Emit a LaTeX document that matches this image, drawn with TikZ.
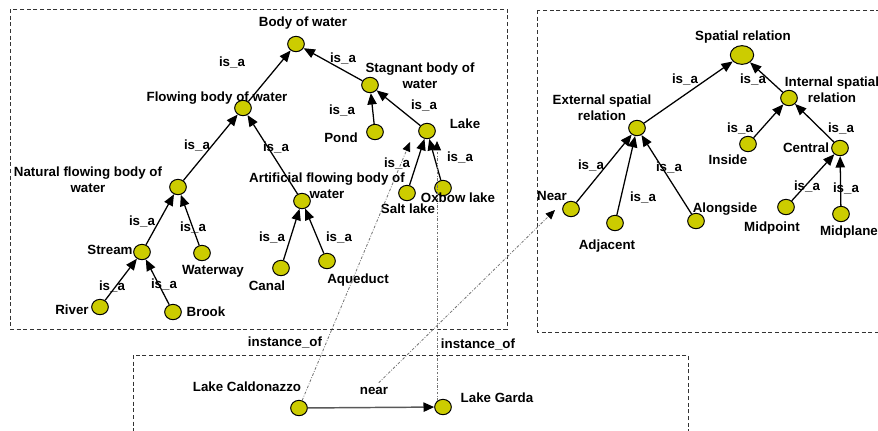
\documentclass[tikz,border=0pt]{standalone}
\usepackage{fontspec}
\setmainfont{Liberation Sans}
\usetikzlibrary{shapes.geometric,arrows.meta}
\definecolor{conceptfill}{RGB}{204,204,0}
\begin{document}
\begin{tikzpicture}[x=0.75pt,y=-0.75pt,
  concept/.style={ellipse, draw=black, line width=0.75pt, fill=conceptfill,
    inner sep=0pt, minimum width=12.5pt, minimum height=11.5pt},
  bigconcept/.style={concept, minimum width=17.5pt, minimum height=14pt},
  lbl/.style={font=\bfseries, inner sep=0pt, anchor=base, yshift=-3.6pt},
  lbltwo/.style={font=\bfseries\fontsize{10}{12}\selectfont, align=center, inner sep=0pt},
  isa/.style={draw=black, line width=0.95pt, -{Triangle[length=8.5pt,width=7pt]}},
  inst/.style={draw=black!55, line width=0.6pt,
    dash pattern=on 2pt off 1.2pt on 0.6pt off 1.2pt,
    -{Triangle[length=7pt,width=6pt,color=black]}},
  relarrow/.style={draw=black!65, line width=1.1pt, -{Triangle[length=8pt,width=7pt,color=black]}},
  frame/.style={draw=black!80, line width=0.6pt, dash pattern=on 3pt off 2pt}]

\clip (0,0) rectangle (878,430);
\fill[white] (0,0) rectangle (878,430);

% ---------- frames ----------
\draw[frame] (10,9) rectangle (507,329);
\draw[frame] (537,10) rectangle (900,332);
\draw[frame] (133,355) rectangle (688,450);

% ---------- bodies of water ----------
\node[concept] (bw)       at (296,44)  {};
\node[concept] (fbw)      at (243,108) {};
\node[concept] (sbw)      at (370,85)  {};
\node[concept] (pond)     at (375,132) {};
\node[concept] (lake)     at (427,131) {};
\node[concept] (salt)     at (407,193) {};
\node[concept] (oxbow)    at (443,188) {};
\node[concept] (nfbw)     at (178,187) {};
\node[concept] (afbw)     at (302,201) {};
\node[concept] (stream)   at (142,252) {};
\node[concept] (waterway) at (202,253) {};
\node[concept] (river)    at (100,307) {};
\node[concept] (brook)    at (173,312) {};
\node[concept] (canal)    at (281,268) {};
\node[concept] (aqueduct) at (327,261) {};

\node[lbl]    (tbw)       at (303,22)  {Body of water};
\node[lbl]    (tfbw)      at (217,97)  {Flowing body of water};
\node[lbltwo] (tsbw)      at (420,76)  {Stagnant body of\\water};
\node[lbl]    (tpond)     at (341,138) {Pond};
\node[lbl]    (tlake)     at (465,124) {Lake};
\node[lbl]    (tsalt)     at (408,209) {Salt lake};
\node[lbl]    (toxbow)    at (458,198) {Oxbow lake};
\node[lbltwo] (tnfbw)     at (88,180)  {Natural flowing body of\\water};
\node[lbltwo] (tafbw)     at (327,186) {Artificial flowing body of\\water};
\node[lbl]    (tstream)   at (110,250) {Stream};
\node[lbl]    (twaterway) at (213,270) {Waterway};
\node[lbl]    (triver)    at (72,310)  {River};
\node[lbl]    (tbrook)    at (206,312) {Brook};
\node[lbl]    (tcanal)    at (267,286) {Canal};
\node[lbl]    (taqueduct) at (358,279) {Aqueduct};

\draw[isa] (fbw) -- (bw);
\draw[isa] (sbw) -- (bw);
\draw[isa] (nfbw) -- (fbw);
\draw[isa] (afbw) -- (fbw);
\draw[isa] (pond) -- (sbw);
\draw[isa] (lake) -- (sbw);
\draw[isa] (salt) -- (lake);
\draw[isa] (oxbow) -- (lake);
\draw[isa] (stream) -- (nfbw);
\draw[isa] (waterway) -- (nfbw);
\draw[isa] (river) -- (stream);
\draw[isa] (brook) -- (stream);
\draw[isa] (canal) -- (afbw);
\draw[isa] (aqueduct) -- (afbw);

\node[lbl] (i1)  at (232,62)  {is\_a};
\node[lbl] (i2)  at (343,58)  {is\_a};
\node[lbl] (i3)  at (197,145) {is\_a};
\node[lbl] (i4)  at (276,147) {is\_a};
\node[lbl] (i5)  at (342,110) {is\_a};
\node[lbl] (i6)  at (424,105) {is\_a};
\node[lbl] (i7)  at (397,163) {is\_a};
\node[lbl] (i8)  at (460,157) {is\_a};
\node[lbl] (i9)  at (142,221) {is\_a};
\node[lbl] (i10) at (193,227) {is\_a};
\node[lbl] (i11) at (112,286) {is\_a};
\node[lbl] (i12) at (164,284) {is\_a};
\node[lbl] (i13) at (272,237) {is\_a};
\node[lbl] (i14) at (339,237) {is\_a};

% ---------- spatial relations ----------
\node[bigconcept] (sr)  at (742,55)  {};
\node[concept] (esr)       at (637,128) {};
\node[concept] (isr)       at (789,98)  {};
\node[concept] (inside)    at (748,144) {};
\node[concept] (central)   at (840,148) {};
\node[concept] (nearc)     at (571,209) {};
\node[concept] (adjacent)  at (615,223) {};
\node[concept] (alongside) at (696,221) {};
\node[concept] (midpoint)  at (786,207) {};
\node[concept] (midplane)  at (841,214) {};

\node[lbl]    (tsr)        at (743,36)  {Spatial relation};
\node[lbltwo] (tesr)       at (602,108) {External spatial\\relation};
\node[lbltwo] (tisr)       at (832,90)  {Internal spatial\\relation};
\node[lbl]    (tinside)    at (728,160) {Inside};
\node[lbl]    (tcentral)   at (806,148) {Central};
\node[lbl]    (tnear)      at (552,196) {Near};
\node[lbl]    (tadjacent)  at (607,245) {Adjacent};
\node[lbl]    (talongside) at (725,208) {Alongside};
\node[lbl]    (tmidpoint)  at (772,227) {Midpoint};
\node[lbl]    (tmidplane)  at (849,231) {Midplane};

\draw[isa] (esr) -- (sr);
\draw[isa] (isr) -- (sr);
\draw[isa] (inside) -- (isr);
\draw[isa] (central) -- (isr);
\draw[isa] (nearc) -- (esr);
\draw[isa] (adjacent) -- (esr);
\draw[isa] (alongside) -- (esr);
\draw[isa] (midpoint) -- (central);
\draw[isa] (midplane) -- (central);

\node[lbl] (j1) at (685,79)  {is\_a};
\node[lbl] (j2) at (753,79)  {is\_a};
\node[lbl] (j3) at (740,128) {is\_a};
\node[lbl] (j4) at (841,128) {is\_a};
\node[lbl] (j5) at (591,165) {is\_a};
\node[lbl] (j6) at (643,197) {is\_a};
\node[lbl] (j7) at (669,167) {is\_a};
\node[lbl] (j8) at (807,186) {is\_a};
\node[lbl] (j9) at (846,188) {is\_a};

% ---------- instances ----------
\node[concept] (cald)  at (299,408) {};
\node[concept] (garda) at (443,407) {};
\node[lbl] (tcald)  at (247,387) {Lake Caldonazzo};
\node[lbl] (tgarda) at (497,398) {Lake Garda};
\node[lbl] (tnearrel) at (374,390) {near};
\node[lbl] (io1) at (285,342) {instance\_of};
\node[lbl] (io2) at (478,344) {instance\_of};

\draw[relarrow] (cald) -- (garda);

\coordinate (lakeinA) at (410,142);
\coordinate (lakeinB) at (437,141);
\coordinate (nearin)  at (555,210);
\draw[inst] (cald) -- (lakeinA);
\draw[inst] (garda.135) -- (garda.135 |- lakeinB);
\draw[inst, shorten <=5pt] (tnearrel.north) -- (nearin);
\end{tikzpicture}
\end{document}
